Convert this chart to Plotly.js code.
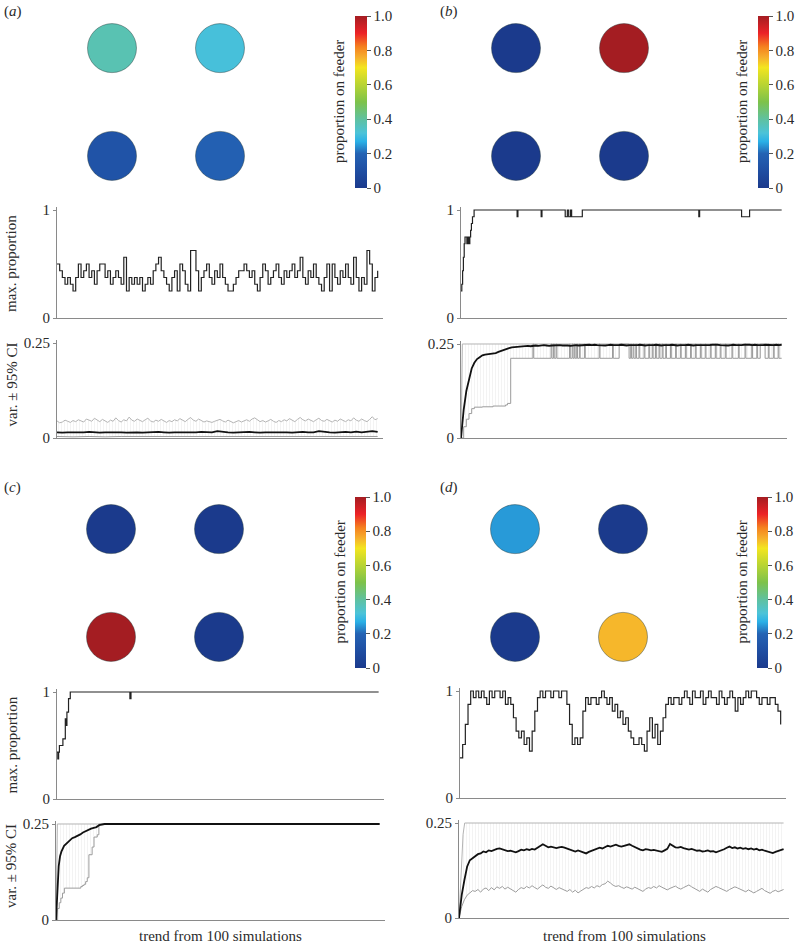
<!DOCTYPE html>
<html>
<head>
<meta charset="utf-8">
<script src="https://cdn.plot.ly/plotly-3.0.1.min.js"></script>
<style>
  html, body { margin: 0; padding: 0; background: #fff; }
  #chart { width: 798px; height: 944px; }
</style>
</head>
<body>
<div id="chart"></div>
<script>
// Page size in pixels
const W = 798;
const H = 944;

const SERIF = 'Liberation Serif, Times New Roman, serif';
const TEXT_COLOR = '#2b2b2b';
const AXIS_COLOR = '#8a8a8a';

// Birds per simulation and length of a run (time axis units)
const FLOCK_SIZE = 16;
const RUN_LENGTH = 120;

// Feeder grid (column, row) and the colour bar
const FEEDER_COL = [1, 2, 1, 2];
const FEEDER_ROW = [2, 2, 1, 1];
const BAR_TICKS = [0, 0.2, 0.4, 0.6, 0.8, 1];
const BAR_LABELS = ['0', '0.2', '0.4', '0.6', '0.8', '1.0'];

// Proportion of the flock on each feeder
const feederA = [0.375, 0.3125, 0.125, 0.1875];
const feederB = [0, 1, 0, 0];
const feederC = [0, 0, 1, 0];
const feederD = [0.25, 0, 0, 0.75];

// Max. proportion, as birds on the busiest feeder (out of FLOCK_SIZE)
const maxCountA = [
  8, 7, 6, 5, 6, 5, 4, 6, 8, 6, 7, 8, 6, 7, 5, 7, 8, 8, 6, 7,
  5, 6, 7, 6, 5, 9, 4, 6, 5, 6, 5, 6, 4, 5, 6, 5, 7, 8, 9, 7,
  6, 5, 4, 6, 7, 4, 8, 7, 5, 4, 10, 10, 7, 4, 6, 7, 8, 6, 5, 7,
  6, 8, 6, 5, 4, 4, 5, 6, 7, 7, 8, 7, 6, 7, 5, 4, 6, 8, 7, 5,
  6, 7, 8, 6, 5, 7, 6, 7, 8, 6, 7, 9, 6, 5, 7, 6, 8, 6, 5, 4,
  6, 8, 4, 8, 6, 5, 7, 6, 8, 6, 5, 9, 6, 4, 6, 5, 10, 8, 4, 6,
  7
];
const maxTimeB = [0, 0.3, 0.6, 0.9, 1.2, 1.5, 2.2, 2.6, 3.0, 3.3, 3.6, 3.9, 4.3, 4.9,
  21.0, 21.3, 30.0, 30.3, 39.0, 39.8, 40.3, 41.0, 41.4, 45.4, 89.0, 89.3, 105.0, 108.0, 120];
const maxCountB = [4, 5, 7, 9, 11, 12, 11, 12, 11, 12, 13, 14, 15, 16,
  15, 16, 15, 16, 15, 16, 15, 16, 15, 16, 15, 16, 15, 16, 16];
const maxTimeC = [0, 0.3, 0.6, 0.9, 1.2, 2.2, 3.1, 3.4, 3.7, 4.3, 4.95, 27.2, 27.6, 120];
const maxCountC = [7, 6, 7, 8, 8, 9, 12, 11, 13, 15, 16, 15, 16, 16];
const maxCountD = [
  6, 8, 11, 14, 16, 15, 16, 15, 16, 15, 14, 16, 15, 16, 16, 15, 16, 14, 15, 14,
  12, 10, 9, 10, 8, 9, 7, 10, 13, 15, 16, 15, 16, 16, 15, 16, 16, 15, 16, 16,
  14, 11, 8, 9, 8, 9, 13, 15, 14, 15, 15, 14, 15, 16, 15, 14, 15, 13, 14, 12,
  13, 11, 12, 10, 9, 8, 8, 9, 8, 7, 10, 12, 9, 11, 8, 10, 12, 14, 15, 14,
  15, 15, 14, 15, 16, 15, 14, 16, 15, 15, 16, 14, 15, 16, 15, 15, 14, 16, 15, 14,
  15, 16, 15, 13, 15, 14, 15, 16, 15, 16, 16, 15, 14, 15, 15, 14, 15, 15, 14, 13,
  11
];

// Variance of the trend and its 95% CI
const varMeanA = [
  0.015, 0.014, 0.015, 0.015, 0.014, 0.015, 0.016, 0.015, 0.014, 0.015,
  0.015, 0.016, 0.015, 0.014, 0.015, 0.015, 0.014, 0.015, 0.015, 0.016,
  0.015, 0.014, 0.015, 0.015, 0.015, 0.014, 0.015, 0.016, 0.015, 0.015,
  0.018, 0.016, 0.015, 0.014, 0.015, 0.015, 0.016, 0.015, 0.014, 0.015,
  0.015, 0.016, 0.015, 0.015, 0.014, 0.015, 0.016, 0.015, 0.015, 0.018,
  0.016, 0.015, 0.014, 0.015, 0.016, 0.015, 0.017, 0.015, 0.016, 0.018,
  0.016
];
const ciUpA = [
  0.045, 0.040, 0.042, 0.047, 0.044, 0.041, 0.046, 0.043, 0.048, 0.045,
  0.042, 0.050, 0.046, 0.044, 0.052, 0.047, 0.043, 0.049, 0.045, 0.041,
  0.047, 0.044, 0.053, 0.046, 0.042, 0.048, 0.045, 0.055, 0.047, 0.044,
  0.050, 0.046, 0.043, 0.048, 0.052, 0.045, 0.042, 0.047, 0.044, 0.049,
  0.045, 0.041, 0.046, 0.043, 0.048, 0.045, 0.051, 0.046, 0.043, 0.049,
  0.054, 0.047, 0.044, 0.050, 0.046, 0.042, 0.045, 0.043, 0.041, 0.044,
  0.046, 0.049, 0.045, 0.042, 0.047, 0.044, 0.040, 0.043, 0.046, 0.042,
  0.045, 0.048, 0.044, 0.050, 0.053, 0.047, 0.043, 0.046, 0.042, 0.045,
  0.049, 0.044, 0.041, 0.046, 0.043, 0.048, 0.045, 0.051, 0.046, 0.043,
  0.049, 0.054, 0.048, 0.045, 0.050, 0.046, 0.043, 0.048, 0.052, 0.046,
  0.044, 0.049, 0.045, 0.042, 0.047, 0.044, 0.050, 0.046, 0.043, 0.048,
  0.045, 0.053, 0.047, 0.044, 0.050, 0.046, 0.043, 0.049, 0.056, 0.048,
  0.051
];
const ciLowA = [0.004, 0.003, 0.004, 0.003, 0.004, 0.004, 0.003, 0.004, 0.003, 0.004,
  0.004, 0.003, 0.004, 0.003, 0.004, 0.004, 0.003, 0.004, 0.003, 0.004, 0.004];

const varMeanB = [
  0, 0.075, 0.125, 0.16, 0.185, 0.2, 0.21, 0.215, 0.22, 0.222,
  0.223, 0.224, 0.224, 0.226, 0.229, 0.232, 0.235, 0.237, 0.239, 0.241,
  0.242, 0.242, 0.243, 0.243, 0.244, 0.245, 0.244, 0.245, 0.246, 0.245,
  0.246, 0.247, 0.246, 0.245, 0.246, 0.247, 0.248, 0.247, 0.246, 0.247,
  0.246, 0.245, 0.246, 0.247, 0.246, 0.247, 0.248, 0.249, 0.248, 0.247,
  0.248, 0.247, 0.246, 0.247, 0.246, 0.247, 0.248, 0.247, 0.246, 0.247,
  0.248, 0.247, 0.246, 0.247, 0.247, 0.246, 0.247, 0.248, 0.247, 0.246,
  0.247, 0.246, 0.247, 0.248, 0.247, 0.246, 0.247, 0.246, 0.247, 0.248,
  0.247, 0.246, 0.247, 0.246, 0.247, 0.248, 0.247, 0.246, 0.247, 0.246,
  0.247, 0.247, 0.246, 0.247, 0.248, 0.249, 0.248, 0.247, 0.246, 0.247,
  0.246, 0.247, 0.248, 0.247, 0.246, 0.247, 0.248, 0.249, 0.248, 0.247,
  0.248, 0.247, 0.246, 0.247, 0.248, 0.247, 0.246, 0.247, 0.248, 0.247,
  0.248
];
const ciUpTimeB = [0, 0.5, 120];
const ciUpB = [0, 0.25, 0.25];
const ciLowTimeB = [
  0, 1, 2, 3, 4, 5, 8, 12, 16.7, 17.4, 18.6,
  26.9, 27.2, 33.7, 34.0, 34.6, 34.9, 35.6, 35.9, 40.6, 40.9,
  41.6, 41.9, 42.4, 42.7, 43.3, 43.6, 44.3, 44.6, 46.2, 46.5,
  51.7, 52.0, 56.7, 57.0, 59.2, 62.9, 63.5, 63.8, 64.4, 64.7,
  65.4, 65.7, 66.6, 66.9, 68.5, 68.8, 70.3, 70.6, 71.6, 71.9,
  72.8, 73.1, 74.1, 74.4, 75.3, 75.6, 76.6, 76.9, 78.4, 78.7,
  80.3, 80.6, 82.1, 82.4, 84.0, 84.3, 85.9, 86.2, 87.7, 88.0,
  89.6, 89.9, 91.4, 91.7, 93.3, 93.6, 95.2, 95.5, 97.0, 97.3,
  98.9, 99.2, 101.4, 101.7, 103.8, 104.1, 106.3, 106.6, 108.8, 109.1,
  110.7, 111.0, 112.0, 113.8, 115.0, 115.3, 116.9, 117.2, 118.7, 119.0,
  120
];
const ciLowB = [
  0, 0.03, 0.05, 0.065, 0.078, 0.082, 0.083, 0.085, 0.088, 0.092, 0.212,
  0.25, 0.212, 0.25, 0.212, 0.25, 0.212, 0.25, 0.212, 0.25, 0.212,
  0.25, 0.212, 0.25, 0.212, 0.25, 0.212, 0.25, 0.212, 0.25, 0.212,
  0.25, 0.212, 0.25, 0.212, 0.25, 0.212, 0.25, 0.212, 0.25, 0.212,
  0.25, 0.212, 0.25, 0.212, 0.25, 0.212, 0.25, 0.212, 0.25, 0.212,
  0.25, 0.212, 0.25, 0.212, 0.25, 0.212, 0.25, 0.212, 0.25, 0.212,
  0.25, 0.212, 0.25, 0.212, 0.25, 0.212, 0.25, 0.212, 0.25, 0.212,
  0.25, 0.212, 0.25, 0.212, 0.25, 0.212, 0.25, 0.212, 0.25, 0.212,
  0.25, 0.212, 0.25, 0.212, 0.25, 0.212, 0.25, 0.212, 0.25, 0.212,
  0.25, 0.212, 0.25, 0.212, 0.25, 0.212, 0.25, 0.212, 0.25, 0.212,
  0.212
];

const varMeanTimeC = [0, 0.5, 1, 1.5, 2, 3, 4, 5, 6, 7, 8, 9, 10, 11, 12, 13, 14, 15, 16, 17, 18, 120];
const varMeanC = [0, 0.09, 0.14, 0.166, 0.178, 0.193, 0.2, 0.207, 0.213, 0.216, 0.219,
  0.223, 0.228, 0.232, 0.236, 0.238, 0.24, 0.242, 0.247, 0.249, 0.25, 0.25];
const ciUpTimeC = [0, 0.5, 120];
const ciUpC = [0, 0.25, 0.25];
const ciLowTimeC = [0, 0.6, 1.2, 1.8, 2.4, 3.1, 9.2, 9.8, 10.4, 11.0, 11.6, 12.2, 13.4, 14.1, 15.3, 15.9, 120];
const ciLowC = [0, 0.03, 0.045, 0.057, 0.07, 0.083, 0.087, 0.09, 0.093, 0.1, 0.11, 0.17, 0.19, 0.216, 0.222, 0.25, 0.25];

const varMeanD = [
  0, 0.06, 0.10, 0.135, 0.152, 0.158, 0.164, 0.168, 0.17, 0.175,
  0.173, 0.178, 0.176, 0.18, 0.182, 0.183, 0.181, 0.179, 0.176, 0.177,
  0.174, 0.173, 0.176, 0.18, 0.178, 0.181, 0.179, 0.182, 0.18, 0.184,
  0.19, 0.194, 0.19, 0.186, 0.188, 0.185, 0.184, 0.186, 0.187, 0.185,
  0.183, 0.18, 0.177, 0.175, 0.178, 0.176, 0.172, 0.17, 0.174, 0.177,
  0.18, 0.182, 0.185, 0.183, 0.187, 0.19, 0.188, 0.191, 0.193, 0.19,
  0.188, 0.19, 0.192, 0.194, 0.19, 0.186, 0.183, 0.18, 0.178, 0.181,
  0.18, 0.178, 0.179, 0.177, 0.176, 0.174, 0.178, 0.182, 0.195, 0.19,
  0.186, 0.185, 0.187, 0.184, 0.181, 0.18, 0.182, 0.179, 0.177, 0.178,
  0.175, 0.176, 0.178, 0.175, 0.176, 0.173, 0.175, 0.178, 0.181, 0.185,
  0.188, 0.184, 0.186, 0.183, 0.185, 0.182, 0.184, 0.181, 0.183, 0.18,
  0.182, 0.178, 0.18, 0.177, 0.175, 0.172, 0.171, 0.174, 0.176, 0.178,
  0.181
];
const ciUpTimeD = [0, 0.7, 1.5, 2.1, 120];
const ciUpD = [0, 0.1, 0.22, 0.25, 0.25];
const ciLowD = [
  0, 0.03, 0.048, 0.06, 0.066, 0.072, 0.07, 0.075, 0.068, 0.076,
  0.079, 0.072, 0.08, 0.074, 0.082, 0.078, 0.083, 0.076, 0.081, 0.077,
  0.073, 0.068, 0.075, 0.08, 0.077, 0.083, 0.079, 0.085, 0.08, 0.076,
  0.082, 0.087, 0.081, 0.078, 0.084, 0.079, 0.075, 0.08, 0.077, 0.072,
  0.07, 0.075, 0.068, 0.073, 0.066, 0.071, 0.075, 0.08, 0.078, 0.083,
  0.079, 0.085, 0.082, 0.088, 0.09, 0.097, 0.092, 0.086, 0.083, 0.085,
  0.081, 0.078, 0.082, 0.079, 0.076, 0.081, 0.077, 0.073, 0.07, 0.076,
  0.08, 0.078, 0.083, 0.079, 0.085, 0.081, 0.077, 0.074, 0.078, 0.081,
  0.084, 0.079, 0.076, 0.08, 0.083, 0.087, 0.082, 0.078, 0.074, 0.07,
  0.076, 0.073, 0.068, 0.075, 0.079, 0.083, 0.08, 0.077, 0.073, 0.07,
  0.075, 0.078, 0.082, 0.079, 0.076, 0.072, 0.069, 0.074, 0.071, 0.066,
  0.07, 0.074, 0.078, 0.072, 0.068, 0.065, 0.07, 0.073, 0.069, 0.072,
  0.075
];

// Colour scale of the feeders (blue - cyan - green - yellow - red)
const FEEDER_SCALE = [
  [0, '#1b3a8c'], [0.1, '#1f4ea2'], [0.2, '#2463b4'], [0.27, '#2ab0e6'],
  [0.32, '#4cc3d8'], [0.4, '#5fc1a0'], [0.5, '#7dc24a'], [0.6, '#b8d433'],
  [0.7, '#f3e51f'], [0.76, '#f6ae2d'], [0.82, '#f5821f'], [0.9, '#ec2227'],
  [1, '#a41d22']
];

function xDom(left, right) {
  return [left / W, right / W];
}

function yDom(top, bottom) {
  return [1 - bottom / H, 1 - top / H];
}

// time axis for evenly sampled series
function evenTimes(values) {
  return values.map((_, i) => i * RUN_LENGTH / (values.length - 1));
}

function toProportion(counts) {
  return counts.map(n => n / FLOCK_SIZE);
}

const PANELS = [
  {
    label: 'a', feeders: feederA, yTitles: true, xTitle: false,
    circle: {left: 58, right: 274, top: 5, bottom: 199},
    bar: {left: 355, top: 16, len: 172, thick: 12},
    maxBox: {left: 57, right: 383, top: 210, bottom: 318},
    varBox: {left: 57, right: 383, top: 343, bottom: 438},
    labelPos: {x: 2, y: 11},
    max: {x: evenTimes(maxCountA), y: toProportion(maxCountA)},
    mean: {x: evenTimes(varMeanA), y: varMeanA, shape: 'linear'},
    up: {x: evenTimes(ciUpA), y: ciUpA, shape: 'linear'},
    low: {x: evenTimes(ciLowA), y: ciLowA, shape: 'linear'}
  },
  {
    label: 'b', feeders: feederB, yTitles: false, xTitle: false,
    circle: {left: 462, right: 678, top: 5, bottom: 199},
    bar: {left: 758, top: 16, len: 172, thick: 11},
    maxBox: {left: 461, right: 787, top: 210, bottom: 318},
    varBox: {left: 461, right: 787, top: 344, bottom: 438},
    labelPos: {x: 438, y: 11},
    max: {x: maxTimeB, y: toProportion(maxCountB)},
    mean: {x: evenTimes(varMeanB), y: varMeanB, shape: 'linear'},
    up: {x: ciUpTimeB, y: ciUpB, shape: 'linear'},
    low: {x: ciLowTimeB, y: ciLowB, shape: 'hv'}
  },
  {
    label: 'c', feeders: feederC, yTitles: true, xTitle: true,
    circle: {left: 57, right: 273, top: 486, bottom: 680},
    bar: {left: 355, top: 497, len: 171, thick: 11},
    maxBox: {left: 57, right: 384, top: 692, bottom: 799},
    varBox: {left: 56, right: 385, top: 824, bottom: 920},
    labelPos: {x: 2, y: 487},
    max: {x: maxTimeC, y: toProportion(maxCountC)},
    mean: {x: varMeanTimeC, y: varMeanC, shape: 'linear'},
    up: {x: ciUpTimeC, y: ciUpC, shape: 'linear'},
    low: {x: ciLowTimeC, y: ciLowC, shape: 'hv'}
  },
  {
    label: 'd', feeders: feederD, yTitles: false, xTitle: true,
    circle: {left: 461, right: 677, top: 486, bottom: 680},
    bar: {left: 757, top: 497, len: 171, thick: 11},
    maxBox: {left: 460, right: 786, top: 691, bottom: 798},
    varBox: {left: 459, right: 789, top: 823, bottom: 918},
    labelPos: {x: 438, y: 487},
    max: {x: evenTimes(maxCountD), y: toProportion(maxCountD)},
    mean: {x: evenTimes(varMeanD), y: varMeanD, shape: 'linear'},
    up: {x: ciUpTimeD, y: ciUpD, shape: 'linear'},
    low: {x: evenTimes(ciLowD), y: ciLowD, shape: 'linear'}
  }
];

const TICK_FONT = {family: SERIF, size: 15, color: TEXT_COLOR};
const Y_PAD = 0.03;

function lineAxisX(box, n) {
  return {
    domain: xDom(box.left, box.right),
    anchor: 'y' + n,
    range: [0, 122],
    showline: true, linecolor: AXIS_COLOR, linewidth: 1,
    showticklabels: false, ticks: '', showgrid: false, zeroline: false,
    fixedrange: true, automargin: false
  };
}

function lineAxisY(box, n, top, labels) {
  const extra = Y_PAD * (box.bottom - box.top);
  return {
    domain: yDom(box.top - extra, box.bottom),
    anchor: 'x' + n,
    range: [0, top * (1 + Y_PAD)],
    tickvals: [0, top], ticktext: labels,
    ticks: 'outside', ticklen: 3, tickcolor: AXIS_COLOR,
    showline: true, linecolor: AXIS_COLOR, linewidth: 1,
    showgrid: false, zeroline: false, tickfont: TICK_FONT,
    fixedrange: true, automargin: false
  };
}

let traces = [];
let layout = {
  width: W, height: H,
  margin: {l: 0, r: 0, t: 0, b: 0},
  paper_bgcolor: '#ffffff', plot_bgcolor: 'rgba(0,0,0,0)',
  showlegend: false,
  font: {family: SERIF, color: TEXT_COLOR},
  annotations: []
};

PANELS.forEach((p, i) => {
  const nCircle = 3 * i + 1;
  const nMax = 3 * i + 2;
  const nVar = 3 * i + 3;
  const sfx = n => (n === 1 ? '' : String(n));

  // feeders
  traces.push({
    type: 'scatter', mode: 'markers',
    x: FEEDER_COL, y: FEEDER_ROW,
    xaxis: 'x' + sfx(nCircle), yaxis: 'y' + sfx(nCircle),
    hoverinfo: 'skip',
    marker: {
      size: 49, color: p.feeders, cmin: 0, cmax: 1,
      colorscale: FEEDER_SCALE, showscale: true,
      line: {color: 'rgba(40,60,60,0.45)', width: 1},
      colorbar: {
        x: p.bar.left / W, xanchor: 'left',
        y: 1 - p.bar.top / H, yanchor: 'top',
        len: p.bar.len, lenmode: 'pixels',
        thickness: p.bar.thick, thicknessmode: 'pixels',
        outlinewidth: 0, xpad: 0, ypad: 0,
        tickvals: BAR_TICKS, ticktext: BAR_LABELS,
        ticks: 'outside', ticklen: 4, tickcolor: '#555',
        tickfont: TICK_FONT
      }
    }
  });
  layout['xaxis' + sfx(nCircle)] = {
    domain: xDom(p.circle.left, p.circle.right), range: [0.5, 2.5],
    anchor: 'y' + sfx(nCircle),
    visible: false, showline: false, zeroline: false, showgrid: false, fixedrange: true
  };
  layout['yaxis' + sfx(nCircle)] = {
    domain: yDom(p.circle.top, p.circle.bottom), range: [0.6, 2.4],
    anchor: 'x' + sfx(nCircle),
    visible: false, showline: false, zeroline: false, showgrid: false, fixedrange: true
  };

  // max. proportion
  traces.push({
    type: 'scatter', mode: 'lines', x: p.max.x, y: p.max.y,
    xaxis: 'x' + nMax, yaxis: 'y' + nMax, hoverinfo: 'skip',
    line: {color: '#222222', width: 1.2, shape: 'hv'}
  });
  layout['xaxis' + nMax] = lineAxisX(p.maxBox, nMax);
  layout['yaxis' + nMax] = lineAxisY(p.maxBox, nMax, 1, ['0', '1']);

  // variance with 95% CI band
  traces.push({
    type: 'scatter', mode: 'lines', x: p.low.x, y: p.low.y,
    xaxis: 'x' + nVar, yaxis: 'y' + nVar, hoverinfo: 'skip',
    line: {color: '#9c9c9c', width: 1, shape: p.low.shape}
  });
  traces.push({
    type: 'scatter', mode: 'lines', x: p.up.x, y: p.up.y,
    xaxis: 'x' + nVar, yaxis: 'y' + nVar, hoverinfo: 'skip',
    fill: 'tonexty',
    fillpattern: {shape: '|', size: 3, solidity: 0.15, fgcolor: '#e4e4e4', bgcolor: 'rgba(255,255,255,0)'},
    line: {color: '#b4b4b4', width: 1, shape: p.up.shape}
  });
  traces.push({
    type: 'scatter', mode: 'lines', x: p.mean.x, y: p.mean.y,
    xaxis: 'x' + nVar, yaxis: 'y' + nVar, hoverinfo: 'skip',
    line: {color: '#111111', width: 1.8, shape: p.mean.shape}
  });
  layout['xaxis' + nVar] = lineAxisX(p.varBox, nVar);
  layout['yaxis' + nVar] = lineAxisY(p.varBox, nVar, 0.25, ['0', '0.25']);

  // texts
  const anns = layout.annotations;
  anns.push({
    text: '(<i>' + p.label + '</i>)', xref: 'paper', yref: 'paper',
    x: p.labelPos.x / W, y: 1 - p.labelPos.y / H,
    xanchor: 'left', yanchor: 'middle', showarrow: false,
    font: {family: SERIF, size: 15, color: TEXT_COLOR}
  });
  anns.push({
    text: 'proportion on feeder', xref: 'paper', yref: 'paper',
    x: (p.bar.left - 16) / W, y: 1 - (p.bar.top + p.bar.len / 2) / H,
    xanchor: 'center', yanchor: 'middle', textangle: -90, showarrow: false,
    font: {family: SERIF, size: 15, color: TEXT_COLOR}
  });
  if (p.yTitles) {
    anns.push({
      text: 'max. proportion', xref: 'paper', yref: 'paper',
      x: 11 / W, y: 1 - (p.maxBox.top + p.maxBox.bottom) / 2 / H,
      xanchor: 'center', yanchor: 'middle', textangle: -90, showarrow: false,
      font: {family: SERIF, size: 15, color: TEXT_COLOR}
    });
    anns.push({
      text: 'var. ± 95% CI', xref: 'paper', yref: 'paper',
      x: 11 / W, y: 1 - (p.varBox.top + p.varBox.bottom - 12) / 2 / H,
      xanchor: 'center', yanchor: 'middle', textangle: -90, showarrow: false,
      font: {family: SERIF, size: 15, color: TEXT_COLOR}
    });
  }
  if (p.xTitle) {
    anns.push({
      text: 'trend from 100 simulations', xref: 'paper', yref: 'paper',
      x: (p.varBox.left + p.varBox.right) / 2 / W, y: 1 - 936 / H,
      xanchor: 'center', yanchor: 'middle', showarrow: false,
      font: {family: SERIF, size: 15, color: TEXT_COLOR}
    });
  }
});

Plotly.newPlot('chart', traces, layout, {staticPlot: true, displayModeBar: false});
</script>
</body>
</html>
